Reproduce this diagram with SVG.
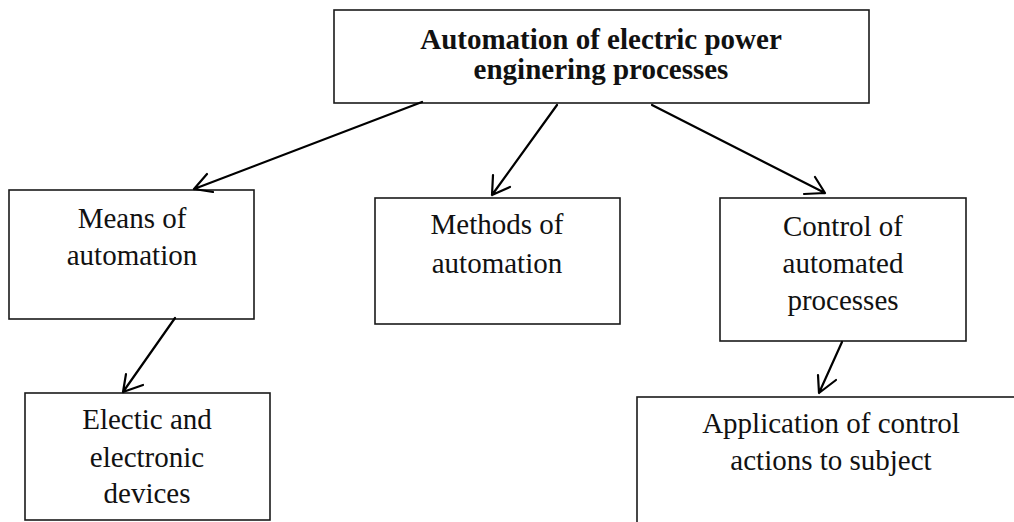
<svg xmlns="http://www.w3.org/2000/svg" width="1014" height="522" viewBox="0 0 1014 522">
<style>
.box{fill:#fff;stroke:#1a1a1a;stroke-width:1.6}
.t{font-family:"Liberation Serif","Times New Roman",serif;font-size:29px;fill:#111;text-anchor:middle}
.b{font-weight:bold}
.c{fill:none;stroke:#000;stroke-width:2.2;stroke-linecap:round;stroke-linejoin:round}
</style>
<rect width="1014" height="522" fill="#fff"/>
<g id="top">
<rect class="box" x="334" y="10" width="535" height="93"/>
<text class="t b" x="601" y="49">Automation of electric power</text>
<text class="t b" x="601" y="79">enginering processes</text>
</g>
<g id="means">
<rect class="box" x="9" y="190" width="245" height="129"/>
<text class="t" x="132" y="228">Means of</text>
<text class="t" x="132" y="265">automation</text>
</g>
<g id="methods">
<rect class="box" x="375" y="198" width="245" height="126"/>
<text class="t" x="497" y="234">Methods of</text>
<text class="t" x="497" y="273">automation</text>
</g>
<g id="control">
<rect class="box" x="720" y="198" width="246" height="143"/>
<text class="t" x="843" y="236">Control of</text>
<text class="t" x="843" y="273">automated</text>
<text class="t" x="843" y="310">processes</text>
</g>
<g id="devices">
<rect class="box" x="25" y="393" width="245" height="127"/>
<text class="t" x="147" y="429">Electic and</text>
<text class="t" x="147" y="467">electronic</text>
<text class="t" x="147" y="503">devices</text>
</g>
<g id="application">
<rect class="box" x="637" y="397" width="420" height="200"/>
<text class="t" x="831" y="433">Application of control</text>
<text class="t" x="831" y="470">actions to subject</text>
</g>
<g id="connectors">
<path class="c" d="M422,102 L194,189 M207,174 L194,189 L213,192"/>
<path class="c" d="M557,105 L492,195 M493,175 L492,195 L510,187"/>
<path class="c" d="M652,105 L825,193 M815,177 L825,193 L804,194"/>
<path class="c" d="M175,318 L123,392 M126,374 L123,392 L143,385"/>
<path class="c" d="M842,342 L819,393 M818,375 L819,393 L836,380"/>
</g>
</svg>
